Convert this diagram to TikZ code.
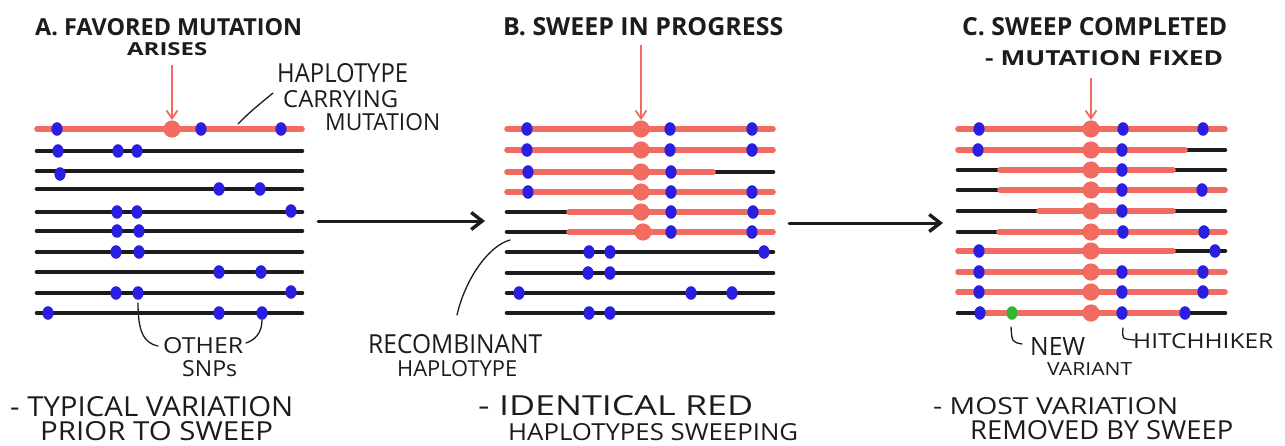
\documentclass[tikz,border=0pt]{standalone}
\usepackage{fontspec}
\setmainfont{Open Sans}
\usepackage{graphicx}
\usetikzlibrary{arrows.meta}
\definecolor{hapred}{HTML}{F26B61}
\definecolor{snpblue}{HTML}{2A1EE0}
\definecolor{newgreen}{HTML}{33B533}
\definecolor{inkblack}{HTML}{1C1C1C}
\tikzset{
  blk/.style={draw=inkblack, line width=4.6pt, line cap=round},
  rdl/.style={draw=hapred, line width=5.6pt, line cap=round},
  snpdot/.style={fill=snpblue},
  greendot/.style={fill=newgreen},
  mutdot/.style={fill=hapred},
  lbl/.style={inner sep=0pt, anchor=base west, text=inkblack},
  ttl/.style={lbl, font=\bfseries},
  leader/.style={draw=inkblack, line width=1.3pt, line cap=round},
  redarrow/.style={draw=hapred, line width=1.8pt, -{Straight Barb[length=8pt,width=11pt]}},
  bigarrow/.style={draw=inkblack, line width=3pt, line cap=round, -{Straight Barb[length=11pt,width=17pt,line width=3.4pt]}},
}
\newcommand\hapB[3]{\draw[blk] (#2,#1) -- (#3,#1);}
\newcommand\hapR[3]{\draw[rdl] (#2,#1) -- (#3,#1);}
\newcommand\snpat[2]{\fill[snpdot] (#1,#2) ellipse [x radius=5.6, y radius=6.8];}
\newcommand\mutat[2]{\fill[mutdot] (#1,#2) circle [radius=8.6];}
\newcommand\hw[3]{\resizebox{#1pt}{#2pt}{#3}}
\begin{document}
\begin{tikzpicture}[x=1pt,y=-1pt]
\useasboundingbox (0,0) rectangle (1285,445);
\fill[white] (0,0) rectangle (1285,445);

% ---------------- Panel A ----------------
\hapR{129}{37}{302}
\foreach \yy in {151,171,189,212,231,252,272,293,313} {\hapB{\yy}{37}{302}}
\mutat{172}{129}
\snpat{57}{129}\snpat{201}{129}\snpat{281}{129}
\snpat{58}{151}\snpat{118}{151}\snpat{137}{151}
\snpat{60}{174}
\snpat{219}{189}\snpat{260}{189}
\snpat{117}{212}\snpat{137}{212}\snpat{291}{211}
\snpat{117}{231}\snpat{139}{231}
\snpat{116}{252}\snpat{139}{252}
\snpat{219}{272}\snpat{261}{272}
\snpat{116}{293}\snpat{138}{293}\snpat{291}{292}
\snpat{48}{313}\snpat{219}{313}\snpat{262}{313}

\coordinate (mutA) at (172,120);
\coordinate (arrA) at (172,65);
\draw[redarrow] (arrA) -- (mutA);

\node[ttl] (tA1) at (35,35) {\hw{267}{17}{A. FAVORED MUTATION}};
\node[ttl] (tA2) at (127,55) {\hw{80}{13}{ARISES}};

\node[lbl] (hc1) at (277,82) {\hw{131}{19}{HAPLOTYPE}};
\node[lbl] (hc2) at (283,107) {\hw{115}{17}{CARRYING}};
\node[lbl] (hc3) at (325,130) {\hw{115}{17}{MUTATION}};
\coordinate (hcA) at (238,124);
\coordinate (hcB) at (273,93);
\draw[leader] (hcA) .. controls (250,112) .. (hcB);

\node[lbl] (os1) at (163,353) {\hw{80}{16}{OTHER}};
\node[lbl] (os2) at (182,376) {\hw{55}{16}{SNPs}};
\coordinate (snpL) at (138,303);
\coordinate (snpR) at (262,320);
\draw[leader] (snpL) .. controls (138,330) and (143,343) .. (158,346);
\draw[leader] (snpR) .. controls (262,333) and (255,340) .. (246,343);

\node[lbl] (bA1) at (10,416) {\hw{283}{20}{- TYPICAL VARIATION}};
\node[lbl] (bA2) at (40,440) {\hw{233}{19}{PRIOR TO SWEEP}};

% ---------------- Panel B ----------------
\hapR{129}{507}{773}
\hapR{150}{507}{773}
\hapB{172}{713}{773}\hapR{172}{507}{713}
\hapR{192}{507}{773}
\hapB{212}{507}{569}\hapR{212}{569}{773}
\hapB{232}{507}{569}\hapR{232}{569}{773}
\foreach \yy in {252,273,293,313} {\hapB{\yy}{507}{773}}
\mutat{641}{129}\mutat{641}{150}\mutat{641}{172}\mutat{641}{192}\mutat{641}{212}\mutat{643}{232}
\snpat{527}{129}\snpat{670}{129}\snpat{752}{129}
\snpat{527}{150}\snpat{670}{150}\snpat{752}{150}
\snpat{528}{172}\snpat{671}{172}
\snpat{528}{192}\snpat{671}{192}\snpat{752}{192}
\snpat{671}{212}\snpat{753}{212}
\snpat{671}{232}\snpat{752}{232}
\snpat{589}{252}\snpat{610}{252}\snpat{764}{252}
\snpat{588}{273}\snpat{610}{273}
\snpat{519}{293}\snpat{691}{293}\snpat{732}{293}
\snpat{589}{313}\snpat{610}{313}

\coordinate (mutB) at (641,120);
\coordinate (arrB) at (641,45);
\draw[redarrow] (arrB) -- (mutB);

\node[ttl] (tB) at (503,35) {\hw{280}{18}{B. SWEEP IN PROGRESS}};

\node[lbl] (rc1) at (368,353) {\hw{174}{19}{RECOMBINANT}};
\node[lbl] (rc2) at (397,376) {\hw{120}{16}{HAPLOTYPE}};
\coordinate (rcA) at (510,240);
\coordinate (rcB) at (457,315);
\draw[leader] (rcA) .. controls (488,246) and (465,280) .. (rcB);

\node[lbl] (bB1) at (478,415) {\hw{275}{20}{- IDENTICAL RED}};
\node[lbl] (bB2) at (508,440) {\hw{290}{17}{HAPLOTYPES SWEEPING}};

% ---------------- Panel C ----------------
\hapR{129}{958}{1225}
\hapB{150}{1185}{1225}\hapR{150}{958}{1185}
\hapB{170}{958}{1000}\hapB{170}{1173}{1225}\hapR{170}{1000}{1173}
\hapB{190}{958}{1000}\hapR{190}{1000}{1225}
\hapB{211}{958}{1039}\hapB{211}{1173}{1225}\hapR{211}{1039}{1173}
\hapB{232}{958}{999}\hapR{232}{999}{1225}
\hapB{251}{1173}{1225}\hapR{251}{958}{1173}
\hapR{272}{958}{1225}
\hapR{292}{958}{1225}
\hapB{313}{958}{980}\hapB{313}{1185}{1225}\hapR{313}{980}{1185}
\foreach \yy in {129,150,170,190,211,232,251,272,292,313} {\mutat{1091}{\yy}}
\snpat{979}{129}\snpat{1123}{129}\snpat{1203}{129}
\snpat{978}{150}\snpat{1122}{150}
\snpat{1122}{170}
\snpat{1122}{190}\snpat{1202}{190}
\snpat{1122}{211}
\snpat{1123}{232}\snpat{1204}{232}
\snpat{979}{251}\snpat{1215}{251}
\snpat{979}{272}\snpat{1122}{272}\snpat{1203}{272}
\snpat{979}{292}\snpat{1122}{292}\snpat{1203}{292}
\snpat{980}{313}\snpat{1122}{313}\snpat{1185}{313}
\fill[greendot] (1012,313) ellipse [x radius=5.6, y radius=6.8];

\coordinate (mutC) at (1091,120);
\coordinate (arrC) at (1091,78);
\draw[redarrow] (arrC) -- (mutC);

\node[ttl] (tC1) at (962,35) {\hw{265}{18}{C. SWEEP COMPLETED}};
\node[ttl] (tC2) at (985,65) {\hw{238}{15}{- MUTATION FIXED}};

\node[lbl] (nv1) at (1030,355) {\hw{55}{18}{NEW}};
\node[lbl] (nv2) at (1047,375) {\hw{85}{13}{VARIANT}};
\node[lbl] (hh) at (1133,348) {\hw{140}{15}{HITCHHIKER}};
\coordinate (nvA) at (1011,327);
\coordinate (nvB) at (1022,344);
\draw[leader] (nvA) .. controls (1012,342) .. (nvB);
\coordinate (hhA) at (1123,328);
\coordinate (hhB) at (1135,340);
\draw[leader] (hhA) .. controls (1122,339) .. (hhB);

\node[lbl] (bC1) at (933,414) {\hw{245}{17}{- MOST VARIATION}};
\node[lbl] (bC2) at (970,439) {\hw{263}{19}{REMOVED BY SWEEP}};

% ---------------- transitions ----------------
\coordinate (outA) at (318,221);
\coordinate (inB) at (485,221);
\coordinate (outB) at (789,223);
\coordinate (inC) at (943,223);
\draw[bigarrow] (outA) -- (inB);
\draw[bigarrow] (outB) -- (inC);
\end{tikzpicture}
\end{document}
